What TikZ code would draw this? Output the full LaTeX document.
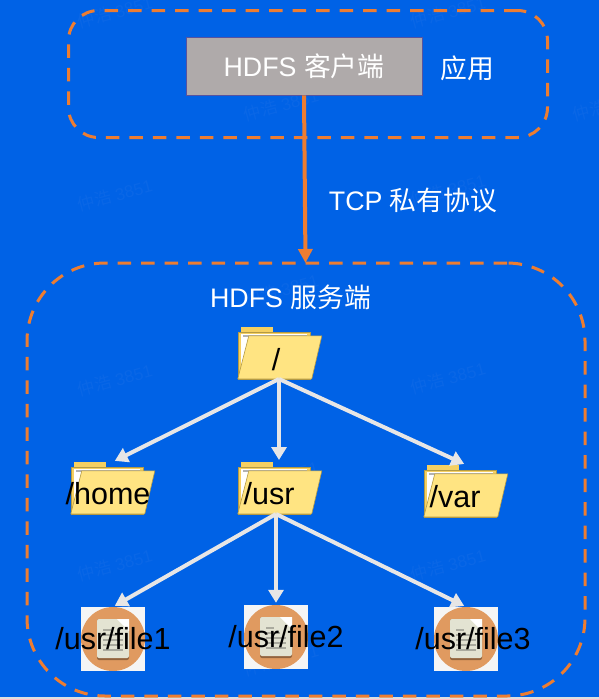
\documentclass[tikz,border=0pt]{standalone}
\usepackage{fontspec}
\setmainfont{Liberation Sans}
\newfontfamily\cjk{Noto Sans CJK SC}
\usetikzlibrary{arrows.meta}
\definecolor{bgblue}{HTML}{0062E6}
\definecolor{markblue}{HTML}{0A67E6}
\definecolor{dashorange}{HTML}{ED7D31}
\definecolor{linegray}{HTML}{E7E6E6}
\definecolor{clientgray}{HTML}{AFAAAA}
\definecolor{folderfront}{HTML}{FFE482}
\definecolor{folderback}{HTML}{F5D061}
\definecolor{folderedge}{HTML}{B39A45}
\definecolor{iconorange}{HTML}{E09A60}
\definecolor{iconpaper}{HTML}{E3E3D2}
\tikzset{
	dashbox/.style={draw=dashorange, line width=3pt, dash pattern=on 13.5pt off 10pt, inner sep=0pt},
	bigtext/.style={text=white, inner sep=0pt, font=\fontsize{26.8}{30}\selectfont},
	pathlabel/.style={text=black, inner sep=0pt, anchor=base, font=\fontsize{30.5}{33}\selectfont},
	folderbox/.style={minimum width=84pt, minimum height=52pt, inner sep=0pt},
	filebox/.style={minimum size=64pt, inner sep=0pt, fill=white!96!black},
	treelink/.style={draw=linegray, line width=4pt, shorten >=2pt, -{Triangle[length=13pt,width=15pt]}},
	folder/.pic={
		\fill[folderback] (3,0) rectangle (35,6);
		\fill[folderback, draw=folderedge, line width=.4pt] (0,5) rectangle (72,52);
		\fill[white] (3,7) rectangle (69,52);
		\fill[gray!60] (5,8) -- (69,8) -- (69,10) -- (5,10) -- cycle;
		\fill[folderfront, draw=folderedge, line width=.6pt] (11,9) -- (84,9) -- (74,52) -- (0,52) -- cycle;
	},
	docicon/.pic={
		\fill[iconorange] (0,0) circle (32);
		\fill[black!35!iconorange, rounded corners=2pt] (-16,-20) rectangle (16,21);
		\fill[iconpaper, rounded corners=2pt] (-16,-20) rectangle (16,19);
		\fill[white] (4,-20) -- (16,-8) -- (16,-20) -- cycle;
		\foreach \ya/\xb in {-9/-2,-4/4,1/10,6/10,11/10}
			\draw[black!25!iconpaper, line width=1.2pt] (-10,\ya) -- (\xb,\ya);
	}
}
\begin{document}
\begin{tikzpicture}[x=1pt,y=-1pt]
	\useasboundingbox (0,0) rectangle (599,699);
	\fill[bgblue] (0,0) rectangle (599,699);
	\fill[gray!25] (0,697) rectangle (599,699);
	%watermarks
	\foreach \mx/\my [count=\i] in {115/12,448/12,281/105,610/105,115/195,448/190,281/290,115/380,448/378,281/477,115/565,448/565,281/660}
		\node (mark\i) at (\mx,\my) [rotate=15, text=markblue, inner sep=0pt, font=\fontsize{17}{20}\selectfont]{{\cjk 仲浩} 3851};
	%dashed areas
	\node (app) at (308,74) [dashbox, rounded corners=30pt, minimum width=479pt, minimum height=127pt]{};
	\node (server) at (306,479.5) [dashbox, rounded corners=78pt, minimum width=558pt, minimum height=433pt]{};
	%client
	\node (client) at (304,66) [fill=clientgray, draw=black!30!clientgray!70!blue, line width=.8pt, minimum width=236pt, minimum height=58pt, inner sep=0pt]{};
	\node (clientlabel) at (304,66) [bigtext]{HDFS {\cjk 客户端}};
	\node (applabel) at (467,68) [bigtext]{\cjk 应用};
	\node (tcplabel) at (413,200) [bigtext]{TCP {\cjk 私有协议}};
	\node (serverlabel) at (290.5,297) [bigtext]{HDFS {\cjk 服务端}};
	\coordinate (servertop) at (305.5,263);
	\draw[draw=dashorange, line width=4pt, -{Triangle[length=14pt,width=14pt]}] (client.south) -- (servertop);
	%folders
	\node (root) at (280,353) [folderbox]{};
	\node (home) at (113,488) [folderbox]{};
	\node (usr) at (280,488) [folderbox]{};
	\node (var) at (466,491) [folderbox]{};
	\foreach \f in {root,home,usr,var}
		\pic at (\f.north west) {folder};
	\coordinate (rootfoot) at (279,379);
	\coordinate (usrtop) at (279,462);
	\coordinate (usrfoot) at (276,514);
	%files
	\node (file1) at (113,639) [filebox]{};
	\node (file2) at (276,637) [filebox]{};
	\node (file3) at (466,639) [filebox]{};
	\foreach \f in {file1,file2,file3}
		\pic at (\f) {docicon};
	%tree links
	\draw[treelink] (rootfoot) -- (home.north);
	\draw[treelink] (rootfoot) -- (usrtop);
	\draw[treelink] (rootfoot) -- (var.north);
	\draw[treelink] (usrfoot) -- (file1.north);
	\draw[treelink] (usrfoot) -- (file2.north);
	\draw[treelink] (usrfoot) -- (file3.north);
	%labels
	\node (rootlabel) at (276,370) [pathlabel]{/};
	\node (homelabel) at (108,504) [pathlabel]{/home};
	\node (usrlabel) at (269,504) [pathlabel]{/usr};
	\node (varlabel) at (455,507) [pathlabel]{/var};
	\node (file1label) at (113,649) [pathlabel]{/usr/file1};
	\node (file2label) at (286,647) [pathlabel]{/usr/file2};
	\node (file3label) at (473,649) [pathlabel]{/usr/file3};
\end{tikzpicture}
\end{document}
